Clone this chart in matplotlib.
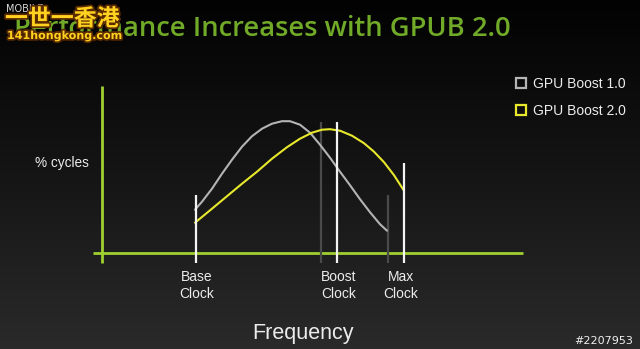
import numpy as np
import matplotlib
matplotlib.use('Agg')
import matplotlib.pyplot as plt
import matplotlib.patheffects as pe
from matplotlib.lines import Line2D

# frequency axis in arbitrary units, % cycles in arbitrary units
boost1_freq = [93, 100, 110, 120, 130, 140, 150, 160, 170, 180, 188, 198, 208, 218,
               228, 238, 248, 258, 268, 278, 285]
boost1_cycles = [43, 51, 64, 79, 93, 106, 116.5, 124, 129, 131.5, 131.5, 128, 120, 108,
                 95, 81, 67.5, 53.5, 40.5, 28.5, 22]
boost2_freq = [93, 110, 125, 140, 155, 170, 185, 198, 210, 220, 228, 238, 250, 262,
               272, 282, 292, 302]
boost2_cycles = [30, 44, 56.5, 69, 81, 94, 105.5, 114, 120, 123, 123.5, 122, 117, 109.5,
                 101, 90.5, 77.5, 62]

clock_names = ['Base\nClock', 'Boost\nClock', 'Max\nClock']
clock_freq = [94, 235, 302]
clock_top = [58, 131, 90]
clock_label_x = [95, 237, 299]
boost1_clock_freq = [219, 286]
boost1_clock_top = [131, 58]

series_names = ['GPU Boost 1.0', 'GPU Boost 2.0']
series_colors = ['#b4b4b4', '#e8e82c']

GREEN = '#9fd030'
TEXT = '#ececec'
W, H = 640, 349

fig = plt.figure(figsize=(W / 100, H / 100), dpi=100)
fig.patch.set_facecolor('black')

# background gradient
bg = fig.add_axes([0, 0, 1, 1])
grad = np.linspace(0.0, 1.0, 256).reshape(-1, 1)
bg.imshow(grad, aspect='auto', cmap=matplotlib.colors.LinearSegmentedColormap.from_list(
    'bg', ['#020202', '#151515', '#2a2a2a']), extent=[0, 1, 0, 1], origin='upper')
bg.set_axis_off()

ox, oy = 102, 252.7
ax = fig.add_axes([ox / W, (H - oy) / H, (W - ox) / W, oy / H])
ax.set_xlim(0, W - ox)
ax.set_ylim(0, oy)
ax.set_axis_off()
ax.patch.set_alpha(0)

# axes
ax.plot([0, 0], [-10.5, 166.5], color=GREEN, lw=2.0, clip_on=False, solid_capstyle='butt')
ax.plot([-9, 421], [0, 0], color=GREEN, lw=2.0, clip_on=False, solid_capstyle='butt')

# clock markers
for f, t in zip(boost1_clock_freq, boost1_clock_top):
    ax.plot([f, f], [-10.5, t], color='#4a4a4a', lw=1.6, clip_on=False, solid_capstyle='butt')
ax.plot(boost1_freq, boost1_cycles, color=series_colors[0], lw=1.5,
        solid_capstyle='round', solid_joinstyle='round')
ax.plot(boost2_freq, boost2_cycles, color=series_colors[1], lw=1.5,
        solid_capstyle='round', solid_joinstyle='round')
for f, t in zip(clock_freq, clock_top):
    ax.plot([f, f], [-10.5, t], color='#f4f4f4', lw=1.6, clip_on=False, solid_capstyle='butt')

for name, x in zip(clock_names, clock_label_x):
    ax.text(x, -33, name, ha='center', va='center', color=TEXT, fontsize=10,
            family='Liberation Sans', linespacing=1.25, clip_on=False)

fig.text(62 / W, 1 - 163 / H, '% cycles', ha='center', va='center', color=TEXT,
         fontsize=9.8, family='Liberation Sans')
fig.text(303 / W, 1 - 333 / H, 'Frequency', ha='center', va='center', color=TEXT,
         fontsize=15.5, family='Liberation Sans')
fig.text(633 / W, 1 - 341.5 / H, '#2207953', ha='right', va='center', color='#f0f0f0',
         fontsize=8, family='DejaVu Sans')

fig.text(14 / W, 1 - 29 / H, 'Performance Increases with GPUB 2.0', ha='left', va='center',
         color='#70aa28', fontsize=19.7, fontweight='semibold', family='Open Sans')

handles = [Line2D([], [], ls='none', marker='s', markersize=6.5, markerfacecolor='none',
                  markeredgecolor=c, markeredgewidth=1.6) for c in series_colors]
fig.legend(handles, series_names, loc='upper left', bbox_to_anchor=(510 / W, 1 - 71.5 / H),
           frameon=False, handlelength=0.8, handletextpad=0.45, labelspacing=0.9,
           prop={'family': 'Liberation Sans', 'size': 10}, labelcolor=TEXT, borderaxespad=0)

# watermark
outline = [pe.withStroke(linewidth=2.5, foreground='#5a2a00')]
fig.text(6 / W, 1 - 9 / H, 'MOBILE', ha='left', va='center', color='#d8d8d8',
         fontsize=7, family='DejaVu Sans')
fig.text(5 / W, 1 - 19 / H, '一世一香港', ha='left', va='center', color='#ffd21f',
         fontsize=16.5, fontweight='bold', family=['Noto Sans CJK SC', 'DejaVu Sans'],
         path_effects=outline)
fig.text(7 / W, 1 - 36 / H, '141hongkong.com', ha='left', va='center', color='#ffd21f',
         fontsize=8, fontweight='bold', family='DejaVu Sans', path_effects=outline)

fig.savefig('out.png', dpi=100, facecolor=fig.get_facecolor())
